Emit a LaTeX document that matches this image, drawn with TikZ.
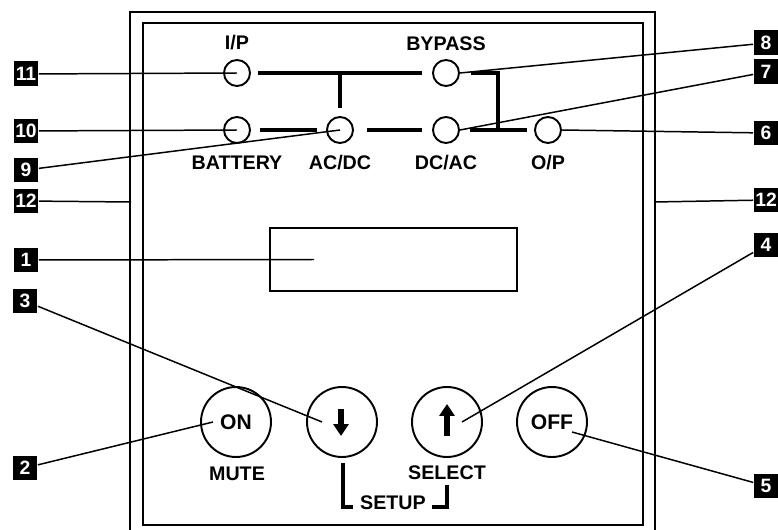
\documentclass[tikz,border=0pt]{standalone}
\usepackage{fontspec}
\setmainfont{Liberation Sans}
\usetikzlibrary{arrows.meta}

\begin{document}
\begin{tikzpicture}[x=0.02cm,y=-0.02cm,
		font=\fontsize{11.2}{13}\selectfont\bfseries,
		led/.style={draw,circle,line width=1.1pt,minimum size=0.52cm,inner sep=0pt},
		btn/.style={draw,circle,line width=1.1pt,minimum size=1.4cm,inner sep=0pt,font=\fontsize{12}{14}\selectfont\bfseries},
		tag/.style={fill=black,text=white,minimum size=0.5cm,inner sep=0pt,font=\fontsize{11}{12}\selectfont\bfseries},
		bar/.style={line width=2.5pt},
		lead/.style={line width=0.85pt}]
			\useasboundingbox (0,0) rectangle (778,530);
			% housing
			\draw[line width=1.3pt] (130,530) -- (130,12) -- (655,12) -- (655,530);
			\draw[line width=1.3pt] (143,23) rectangle (643,525);
			\coordinate (edgeL) at (131,202);
			\coordinate (edgeR) at (654,202);
			% status leds
			\node[led] (ip) at (237,73) {};
			\node[led] (byp) at (446,73) {};
			\node[led] (bat) at (237,130) {};
			\node[led] (acdc) at (340,130) {};
			\node[led] (dcac) at (446,130) {};
			\node[led] (op) at (548,130) {};
			\node (ipl) at (237,43) {I/P};
			\node (bypl) at (446,44) {BYPASS};
			\node (batl) at (237,163) {BATTERY};
			\node (acdcl) at (340,163) {AC/DC};
			\node (dcacl) at (446,163) {DC/AC};
			\node (opl) at (548,163) {O/P};
			% flow bars
			\draw[bar] (258,73) -- (422,73);
			\draw[bar] (340,73) -- (340,108);
			\draw[bar] (471,73) -- (498,73) -- (498,130);
			\draw[bar] (260,130) -- (317,130);
			\draw[bar] (367,130) -- (422,130);
			\draw[bar] (470,130) -- (527,130);
			% display
			\node[draw,line width=1.1pt,minimum width=4.94cm,minimum height=1.26cm,inner sep=0pt] (disp) at (393.5,259.5) {};
			% buttons
			\node[btn] (on) at (236,422) {ON};
			\node[btn] (dn) at (342,422) {};
			\node[btn] (up) at (447,422) {};
			\node[btn] (off) at (552,422) {OFF};
			\draw[line width=3.2pt,-{Triangle[length=0.24cm,width=0.3cm]}] (341,409) -- (341,436);
			\draw[line width=3.2pt,-{Triangle[length=0.24cm,width=0.3cm]}] (447,436) -- (447,404);
			\node (mute) at (237,474) {MUTE};
			\node (sel) at (447,473) {SELECT};
			\node (setup) at (393,503) {SETUP};
			\draw[bar] (343,463) -- (343,507) -- (353,507);
			\draw[bar] (432,507) -- (447,507) -- (447,485);
			% callouts
			\node[tag] (t11) at (26,74) {11};
			\node[tag] (t10) at (26,131) {10};
			\node[tag] (t9) at (26,170) {9};
			\node[tag] (t12a) at (26,201) {12};
			\node[tag] (t1) at (26,260) {1};
			\node[tag] (t3) at (25,301) {3};
			\node[tag] (t2) at (25,468) {2};
			\node[tag] (t8) at (766,43) {8};
			\node[tag] (t7) at (766,72) {7};
			\node[tag] (t6) at (766,133) {6};
			\node[tag] (t12b) at (766,200) {12};
			\node[tag] (t4) at (766,245) {4};
			\node[tag] (t5) at (766,486) {5};
			\draw[lead] (t11) -- (ip.center);
			\draw[lead] (t10) -- (bat.center);
			\draw[lead] (t9) -- (acdc.center);
			\draw[lead] (t12a) -- (edgeL);
			\draw[lead] (t1) -- ([xshift=0.9cm]disp.west);
			\draw[lead] (t3) -- ([xshift=-0.4cm]dn.center);
			\draw[lead] (t2) -- ([xshift=-0.46cm]on.center);
			\draw[lead] (t8) -- (byp.east);
			\draw[lead] (t7) -- (dcac.east);
			\draw[lead] (t6) -- (op.east);
			\draw[lead] (t12b) -- (edgeR);
			\draw[lead] (t4) -- ([xshift=0.3cm]up.center);
			\draw[lead] (t5) -- ([shift={(0.4cm,-0.2cm)}]off.center);
		\end{tikzpicture}
\end{document}
